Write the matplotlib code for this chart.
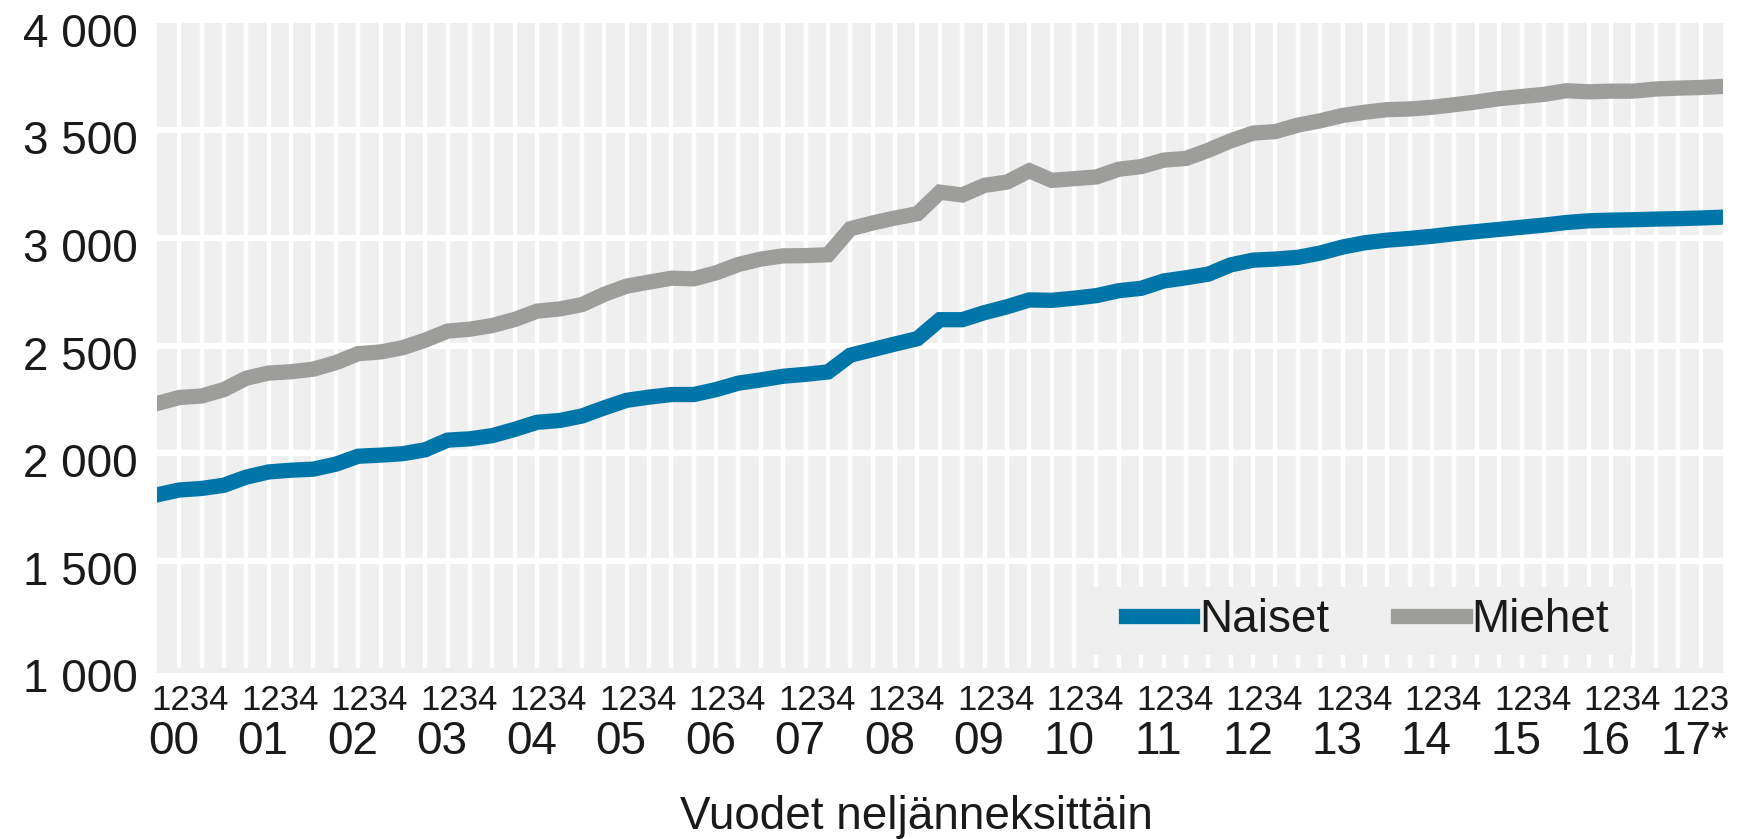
import matplotlib
matplotlib.use('Agg')
import matplotlib.pyplot as plt
import matplotlib.transforms as mtransforms
from matplotlib.patches import Rectangle

plt.rcParams['font.family'] = ['Liberation Sans', 'DejaVu Sans']

# 2000Q1 .. 2017Q3
years = ['00', '01', '02', '03', '04', '05', '06', '07', '08',
         '09', '10', '11', '12', '13', '14', '15', '16', '17*']
quarters_per_year = [4] * 17 + [3]

naiset = [1805, 1828, 1835, 1850, 1888, 1912, 1920, 1925,
          1948, 1985, 1990, 1997, 2015, 2060, 2066, 2081,
          2110, 2143, 2151, 2172, 2210, 2245, 2260, 2272,
          2272, 2295, 2325, 2340, 2357, 2366, 2377, 2455,
          2481, 2507, 2532, 2620, 2620, 2653, 2680, 2712,
          2710, 2720, 2732, 2755, 2766, 2800, 2815, 2832,
          2875, 2897, 2902, 2910, 2930, 2958, 2978, 2990,
          2998, 3008, 3020, 3030, 3040, 3050, 3060, 3072,
          3080, 3083, 3085, 3088, 3090, 3093, 3097]

miehet = [2230, 2258, 2265, 2295, 2348, 2372, 2378, 2390,
          2420, 2462, 2470, 2490, 2525, 2567, 2576, 2593,
          2621, 2660, 2670, 2690, 2738, 2776, 2795, 2813,
          2810, 2838, 2877, 2902, 2917, 2918, 2922, 3043,
          3070, 3093, 3113, 3213, 3200, 3245, 3260, 3313,
          3268, 3276, 3284, 3320, 3332, 3362, 3370, 3408,
          3452, 3488, 3495, 3525, 3545, 3570, 3585, 3597,
          3600, 3608, 3620, 3633, 3648, 3658, 3668, 3685,
          3680, 3683, 3683, 3693, 3697, 3700, 3705]

y_ticks = [1000, 1500, 2000, 2500, 3000, 3500, 4000]

BLUE = '#0075a8'
GREY = '#9d9d9c'
BG = '#efefef'
TXT = '#1a1a1a'

x = list(range(len(naiset)))
n = len(x)

fig = plt.figure(figsize=(17.4, 8.39), dpi=100)
ax = fig.add_axes([0.0901, 0.1979, 0.9001, 0.7747])
ax.set_facecolor(BG)
for s in ax.spines.values():
    s.set_visible(False)

ax.set_xlim(0, n - 1)
ax.set_ylim(977, 4000)

# white grid: one column per quarter, rows every 500
ax.vlines(range(1, n - 1), 1000, 4000, color='white', lw=3.2, zorder=1)
ax.hlines(y_ticks[1:-1], 0, n - 1, color='white', lw=4.5, zorder=1)

ax.plot(x, naiset, color=BLUE, lw=11, solid_joinstyle='miter', zorder=3, label='Naiset')
ax.plot(x, miehet, color=GREY, lw=11, solid_joinstyle='miter', zorder=3, label='Miehet')

ax.set_yticks(y_ticks)
ax.set_yticklabels([f'{v:,}'.replace(',', ' ') for v in y_ticks])
ax.tick_params(axis='y', length=0, pad=14, labelsize=33, labelcolor=TXT)
off = mtransforms.ScaledTranslation(0, -7 / 100, fig.dpi_scale_trans)
for lab in ax.get_yticklabels():
    lab.set_transform(lab.get_transform() + off)
ax.set_xticks([])

# quarter numbers and year labels under the axis
trans = mtransforms.blended_transform_factory(ax.transData, ax.transAxes)
start = 0
for yr, nq in zip(years, quarters_per_year):
    qtxt = ''.join(str(q + 1) for q in range(nq))
    ax.text(start + (nq - 1) / 2, -0.0423, qtxt, transform=trans, ha='center', va='center',
            fontsize=25, color=TXT, clip_on=False)
    ax.text(start + 0.75, -0.106, yr, transform=trans, ha='center', va='center',
            fontsize=33, color=TXT, clip_on=False)
    start += nq

fig.text(0.5267, 0.0263, 'Vuodet neljänneksittäin', ha='center', va='center',
         fontsize=33, color=TXT)

# legend box
ax.add_patch(Rectangle((0.5908, 0.0277), 0.3511, 0.1046, transform=ax.transAxes,
                       facecolor=BG, edgecolor='none', zorder=2))
leg = ax.legend(loc='center left', bbox_to_anchor=(0.6188, 0.0815), ncol=2,
                frameon=False, fontsize=33, borderpad=0, borderaxespad=0,
                handlelength=1.45, handletextpad=0.15, columnspacing=1.5)
for t in leg.get_texts():
    t.set_color(TXT)

plt.savefig('out.png', dpi=100, facecolor='white')
plt.close()
